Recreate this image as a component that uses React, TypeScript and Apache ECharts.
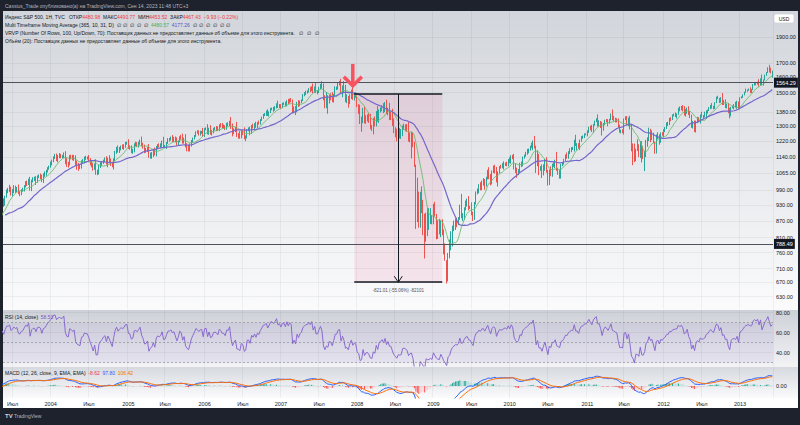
import React, { useEffect, useRef } from 'react';
import * as echarts from 'echarts';

// ---------- DATA (weekly S&P 500, Friday bars) ----------
const startDate = Date.UTC(2002, 10, 1); // first weekly bar (Fri 2002-11-01)
const firstOpen = 885.8;

const weeklyClose = [
  // 2002 Nov-Dec
  901.0, 894.7, 909.8, 930.6, 936.3, 912.2, 889.5, 895.8, 875.4,
  // 2003
  908.6, 927.6, 901.8, 861.4, 855.7, 829.7, 834.9, 851.2, 841.2, 828.9, 833.3, 895.9, 863.5,
  878.9, 868.3, 893.6, 898.8, 930.1, 933.4, 946.7, 933.2, 963.6, 987.8, 988.6, 995.7, 976.2,
  985.7, 998.1, 993.3, 998.7, 980.2, 977.6, 990.7, 993.1, 1008.0, 1021.4, 1018.6, 1036.3, 996.9,
  1029.9, 1038.7, 1039.3, 1028.9, 1050.7, 1053.2, 1050.4, 1035.3, 1058.2, 1061.5, 1074.1, 1088.7, 1095.9,
  // 2004
  1108.5, 1121.9, 1139.8, 1141.6, 1131.1, 1142.8, 1145.8, 1144.1, 1144.9, 1156.9, 1120.6, 1109.8, 1108.1,
  1141.8, 1139.3, 1134.6, 1140.6, 1107.3, 1098.7, 1095.7, 1093.6, 1120.7, 1122.5, 1136.5, 1135.0, 1134.4,
  1125.4, 1112.8, 1101.4, 1086.2, 1101.7, 1064.0, 1064.8, 1098.4, 1107.8, 1113.6, 1123.9, 1128.6, 1110.1,
  1131.5, 1122.1, 1108.2, 1095.7, 1130.2, 1166.2, 1184.2, 1170.3, 1182.7, 1191.2, 1188.0, 1194.2, 1210.1, 1211.9,
  // 2005
  1186.2, 1184.5, 1167.9, 1171.4, 1203.0, 1205.3, 1201.6, 1211.4, 1222.1, 1200.1, 1190.2, 1171.4,
  1172.9, 1181.2, 1142.6, 1152.1, 1156.9, 1171.4, 1154.1, 1189.3, 1198.8, 1196.0, 1200.9, 1217.0, 1191.6,
  1194.4, 1211.9, 1227.9, 1229.0, 1234.2, 1226.4, 1230.4, 1219.7, 1205.1, 1218.0, 1241.5, 1237.9, 1215.3, 1228.8,
  1195.9, 1186.6, 1179.6, 1198.4, 1220.1, 1234.7, 1248.3, 1268.3, 1265.1, 1259.4, 1267.3, 1268.7, 1248.3,
  // 2006
  1285.5, 1287.6, 1261.5, 1283.7, 1264.0, 1267.0, 1287.2, 1289.4, 1287.2, 1281.4, 1307.3, 1303.0, 1294.8,
  1295.5, 1289.1, 1311.3, 1310.6, 1325.8, 1291.2, 1267.0, 1280.2, 1288.2, 1252.3, 1251.5, 1244.5, 1270.2,
  1265.5, 1236.2, 1240.3, 1278.6, 1279.4, 1266.7, 1302.3, 1295.1, 1311.0, 1298.9, 1319.7, 1314.8, 1335.9,
  1349.6, 1365.6, 1368.6, 1377.3, 1364.3, 1380.9, 1401.2, 1401.0, 1396.7, 1409.8, 1427.1, 1410.8, 1418.3,
  // 2007
  1409.7, 1430.7, 1430.5, 1422.2, 1448.4, 1438.1, 1455.5, 1451.2, 1387.2, 1402.8, 1387.0, 1436.1, 1420.9,
  1443.8, 1452.9, 1484.4, 1494.1, 1505.6, 1505.9, 1522.8, 1515.7, 1536.3, 1507.7, 1532.9, 1502.6, 1503.4,
  1530.4, 1552.5, 1534.1, 1459.0, 1433.1, 1453.6, 1445.9, 1479.4, 1474.0, 1453.6, 1484.3, 1525.8, 1526.8,
  1557.6, 1561.8, 1500.6, 1535.3, 1509.7, 1453.7, 1458.7, 1440.7, 1481.1, 1504.7, 1468.0, 1484.5, 1478.5,
  // 2008
  1411.6, 1401.0, 1325.2, 1330.6, 1395.4, 1331.3, 1350.0, 1353.1, 1330.6, 1293.4, 1288.1, 1329.5, 1315.2,
  1370.4, 1332.8, 1390.3, 1397.8, 1413.9, 1388.3, 1425.4, 1375.9, 1400.4, 1360.7, 1360.0, 1317.9, 1278.4,
  1262.9, 1239.5, 1260.7, 1257.8, 1260.3, 1296.3, 1298.2, 1292.2, 1282.8, 1242.3, 1251.7, 1255.1, 1213.3,
  1099.2, 899.2, 940.6, 876.8, 968.8, 931.0, 873.3, 800.0, 896.2, 876.1, 879.7, 887.9, 872.8,
  // 2009
  931.8, 890.4, 850.1, 832.0, 825.9, 868.6, 826.8, 770.1, 735.1, 683.4, 756.6, 768.5, 815.9,
  842.5, 856.6, 869.6, 866.2, 877.5, 929.2, 882.9, 887.0, 919.1, 940.1, 946.2, 921.2, 918.9,
  896.4, 879.1, 940.4, 979.3, 987.5, 1010.5, 1004.1, 1026.1, 1028.9, 1016.4, 1042.7, 1068.3, 1044.4,
  1025.2, 1071.5, 1087.7, 1079.6, 1036.2, 1069.3, 1093.5, 1091.4, 1091.5, 1106.0, 1106.4, 1102.5, 1126.5, 1115.1,
  // 2010
  1145.0, 1136.0, 1091.8, 1073.9, 1066.2, 1075.5, 1109.2, 1104.5, 1138.7, 1150.0, 1159.9, 1166.6,
  1178.1, 1194.4, 1192.1, 1217.3, 1186.7, 1110.9, 1135.7, 1087.7, 1089.4, 1064.9, 1091.6, 1117.5, 1076.8,
  1022.6, 1078.0, 1064.9, 1102.7, 1101.6, 1121.6, 1079.3, 1071.7, 1064.6, 1104.5, 1109.6, 1125.6, 1148.7,
  1146.2, 1165.2, 1176.2, 1183.1, 1183.3, 1225.9, 1199.2, 1199.7, 1189.4, 1224.7, 1240.4, 1243.9, 1256.8, 1257.6,
  // 2011
  1271.5, 1293.2, 1283.4, 1276.3, 1310.9, 1329.2, 1343.0, 1319.9, 1321.2, 1304.3, 1279.2, 1313.8,
  1332.4, 1328.2, 1319.7, 1337.4, 1363.6, 1340.2, 1337.8, 1333.3, 1331.1, 1300.2, 1271.0, 1271.5, 1268.5,
  1339.7, 1343.8, 1316.1, 1345.0, 1292.3, 1199.4, 1178.8, 1123.5, 1176.8, 1174.0, 1154.2, 1216.0, 1136.4, 1131.4,
  1155.5, 1224.6, 1238.3, 1285.1, 1253.2, 1263.9, 1215.7, 1158.7, 1244.3, 1255.2, 1219.7, 1265.3, 1257.6,
  // 2012
  1277.8, 1289.1, 1315.4, 1316.3, 1344.9, 1342.6, 1361.2, 1365.7, 1369.6, 1370.9, 1404.2, 1397.1, 1408.5,
  1398.1, 1370.3, 1378.5, 1403.4, 1369.1, 1353.4, 1295.2, 1317.8, 1278.0, 1325.7, 1342.8, 1335.0, 1362.2,
  1354.7, 1356.8, 1362.7, 1386.0, 1391.0, 1405.9, 1418.2, 1411.1, 1406.6, 1437.9, 1465.8, 1460.2, 1440.7,
  1460.9, 1428.6, 1433.2, 1411.9, 1414.2, 1379.9, 1359.9, 1409.2, 1416.2, 1418.1, 1413.6, 1430.2, 1402.4,
  // 2013 Jan-Jun 7
  1466.5, 1472.1, 1486.0, 1503.0, 1513.2, 1517.9, 1519.8, 1515.6, 1518.2, 1551.2, 1560.7, 1556.9, 1569.2,
  1553.3, 1588.9, 1555.3, 1582.2, 1614.4, 1633.7, 1667.5, 1649.6, 1630.7, 1643.4,
];

// upper wick above the body, points
const wickUp = [
  14, 10, 12, 9, 7, 12, 9, 14, 8,
  6, 9, 8, 10, 12, 14, 10, 8, 12, 18, 14, 8, 20, 8, 16, 6, 10, 6, 8, 4, 10, 4, 6, 12, 18, 10,
  10, 14, 12, 6, 16, 6, 4, 8, 4, 8, 10, 4, 12, 6, 8, 10, 12, 4, 6, 10, 8, 6, 12, 6, 4, 4,
  10, 6, 4, 14, 16, 8, 14, 10, 6, 6, 12, 14, 8, 8, 10, 12, 10, 8, 16, 14, 12, 4, 8, 6, 10, 8,
  16, 10, 12, 10, 8, 28, 16, 4, 8, 8, 4, 10, 16, 6, 18, 12, 10, 4, 4, 6, 14, 8, 6, 12, 10, 6, 6,
  18, 12, 14, 10, 6, 12, 10, 6, 6, 22, 12, 12, 12, 10, 24, 10, 8, 10, 16, 6, 6, 10, 8, 6, 26,
  6, 4, 8, 8, 10, 18, 12, 14, 20, 6, 4, 12, 22, 10, 28, 14, 14, 10, 6, 4, 4, 4, 10, 12, 8, 6, 22,
  4, 6, 24, 8, 22, 12, 4, 6, 12, 12, 4, 10, 14, 14, 10, 8, 10, 4, 26, 24, 8, 8, 36, 10, 22, 6,
  10, 28, 10, 6, 14, 18, 4, 12, 6, 14, 4, 12, 4, 4, 4, 6, 12, 20, 4, 4, 6, 10, 6, 6, 22, 10,
  10, 6, 8, 12, 4, 12, 6, 10, 5, 12, 14, 6, 16, 6, 4, 6, 8, 6, 8, 6, 14, 4, 22, 6, 30, 12,
  6, 4, 22, 24, 24, 50, 30, 6, 16, 28, 6, 14, 12, 8, 14, 28, 10, 40, 40, 30, 20, 8, 14, 34, 16, 14,
  4, 16, 24, 24, 10, 20, 12, 14, 22, 40, 14, 16, 26, 16, 46, 6, 10, 8, 20, 15, 30, 6, 36, 22, 40, 26,
  16, 24, 10, 30, 24, 8, 16, 12, 20, 40, 14, 14, 10, 4, 5, 104, 44, 15, 38, 20, 23, 4, 22, 38, 30, 4,
  3, 11, 5, 21, 45, 2, 7, 12, 20, 1, 2, 35, 16, 10, 14, 8, 12, 6, 2, 46, 12, 2, 8, 10, 20, 6,
  22, 8, 2, 6, 10, 6, 14, 6, 14, 10, 6, 12, 24, 16, 6, 12, 16, 14, 4, 4, 10, 20, 14, 8, 12, 4, 12,
  4, 6, 20, 18, 16, 8, 4, 10, 4, 2, 6, 14, 4, 2, 18, 6, 30, 10, 38, 20, 8, 16, 14, 14, 22,
  3, 4, 18, 6, 12, 6, 44, 10, 10, 4, 6, 6, 4, 14, 4, 8, 6, 8, 2, 28, 10, 10, 4, 6, 6, 4, 4,
  6, 4, 10, 24, 2, 2, 2, 24, 12, 8, 20, 4, 4, 8, 12, 4, 8, 32, 18, 10, 12, 12, 8, 10, 12,
  4, 12, 14, 4, 14, 15, 9, 29, 5, 53, 30, 4, 4, 59, 16, 2, 2, 7, 1, 13, 1, 2, 11, 12, 1, 1, 2,
  6, 6, 6, 8, 2, 6, 6, 6, 8, 2, 2, 10, 8, 14, 18, 20, 4, 12, 18, 12, 12, 14, 6, 10, 8, 4,
  20, 6, 20, 4, 4, 4, 4, 16, 6, 2, 8, 14, 6, 10, 36, 20, 24, 16, 20, 26, 2, 2, 10, 24, 18, 14,
  4, 4, 2, 2, 12, 2, 6, 14, 4, 4, 4, 6, 2, 18, 4, 30, 4, 4, 2, 2, 20, 18, 3,
];

// lower wick below the body, points
const wickDown = [
  16, 20, 12, 10, 9, 14, 16, 20, 12,
  6, 10, 6, 8, 14, 12, 20, 8, 10, 10, 16, 4, 14, 10, 6, 12, 6, 8, 12, 6, 10, 6, 4, 10, 6, 8,
  12, 8, 14, 10, 6, 12, 8, 6, 8, 6, 10, 6, 8, 10, 6, 8, 16, 6, 8, 12, 10, 14, 10, 8, 6, 8,
  6, 8, 6, 8, 10, 16, 8, 10, 10, 10, 14, 16, 18, 8, 10, 10, 12, 8, 18, 20, 10, 8, 10, 12, 8, 6,
  6, 12, 10, 10, 6, 6, 8, 6, 10, 10, 6, 8, 6, 18, 6, 10, 4, 14, 8, 10, 8, 10, 10, 8, 12, 8, 8,
  6, 8, 8, 12, 8, 8, 12, 14, 10, 6, 8, 12, 10, 8, 6, 10, 20, 16, 6, 10, 10, 8, 12, 10, 6,
  6, 14, 6, 10, 6, 10, 10, 6, 8, 6, 4, 10, 8, 8, 8, 18, 12, 12, 6, 8, 6, 6, 6, 10, 10, 8, 6,
  6, 8, 6, 8, 10, 14, 6, 10, 14, 8, 8, 10, 6, 6, 10, 8, 10, 10, 6, 22, 10, 12, 10, 18, 12, 10,
  14, 6, 16, 6, 6, 16, 8, 8, 12, 8, 10, 6, 6, 6, 8, 8, 10, 6, 10, 6, 10, 14, 8, 8, 6, 6,
  12, 6, 8, 8, 8, 10, 6, 12, 13, 14, 24, 8, 10, 6, 10, 6, 8, 10, 12, 6, 14, 6, 12, 8, 6, 14,
  6, 10, 8, 8, 30, 30, 75, 14, 22, 14, 16, 8, 10, 8, 12, 10, 30, 12, 14, 20, 34, 12, 22, 14, 18, 12,
  2, 31, 13, 55, 14, 16, 18, 24, 12, 10, 14, 32, 16, 16, 8, 14, 12, 12, 14, 8, 8, 14, 26, 26, 16, 16,
  22, 20, 40, 24, 26, 14, 16, 20, 14, 24, 28, 118, 24, 6, 59, 34, 32, 32, 32, 55, 59, 4, 61, 39, 22, 16,
  16, 3, 46, 27, 5, 14, 9, 16, 1, 17, 11, 15, 1, 36, 10, 20, 20, 12, 4, 4, 14, 14, 10, 16, 12, 4,
  6, 10, 6, 8, 6, 10, 14, 14, 16, 24, 10, 6, 6, 14, 10, 6, 16, 12, 30, 6, 6, 4, 10, 8, 6, 6, 4,
  6, 6, 10, 8, 22, 10, 8, 12, 8, 6, 8, 8, 8, 6, 8, 18, 4, 45, 14, 32, 12, 22, 10, 16, 10,
  12, 10, 14, 16, 8, 14, 4, 14, 24, 24, 8, 6, 6, 14, 14, 10, 12, 8, 16, 4, 24, 6, 14, 8, 8, 8, 6,
  12, 8, 6, 8, 12, 8, 6, 22, 20, 14, 30, 4, 8, 6, 20, 6, 4, 6, 10, 12, 10, 8, 6, 10, 6,
  14, 6, 10, 16, 10, 31, 77, 7, 3, 4, 14, 18, 22, 1, 57, 15, 33, 18, 38, 27, 7, 2, 1, 13, 18, 8, 9,
  18, 10, 4, 14, 10, 14, 8, 6, 14, 26, 6, 12, 6, 14, 10, 16, 8, 6, 8, 4, 8, 10, 12, 8, 12, 20,
  6, 16, 6, 22, 14, 4, 8, 10, 10, 8, 4, 2, 6, 4, 6, 6, 8, 10, 6, 16, 4, 6, 20, 6, 14, 4,
  4, 4, 6, 4, 4, 8, 6, 18, 18, 2, 6, 10, 6, 14, 8, 6, 10, 4, 4, 4, 16, 4, 33,
];

const priceTicks = [1900, 1700, 1600, 1500, 1380, 1300, 1220, 1140, 1065, 990, 930, 870, 810, 760, 710, 670, 630];
const horizontalLevels = [1564.29, 788.49];
const markedPrice = 1643.38;
const rsiTickValues = [80, 60, 40];
const rsiBandValues = [70, 50, 30];
const macdTickValues = [0];

const viewStart = 29; // first visible weekly bar index
const viewEnd = 553;  // last visible weekly bar index
const measureStartIdx = 268;
const measureEndIdx = 328;
const measureTop = 1491.08;
const measureBottom = 670.07;
const measureText = '-821.01 (-55.06%) -82101';
const arrowIdx = 267;
const arrowTipPrice = 1537;
const arrowTailPrice = 1694;

const FONT = 'Liberation Sans, Arial, sans-serif';
const DARK = '#131722';

function sma(a: number[], n: number) {
  return a.map((_, i) => {
    if (i < n - 1) return null;
    let s = 0;
    for (let k = i - n + 1; k <= i; k++) s += a[k];
    return s / n;
  });
}
function ema(a: number[], n: number) {
  const k = 2 / (n + 1);
  const out: number[] = [];
  let prev = a[0];
  a.forEach((v, i) => {
    prev = i === 0 ? v : v * k + prev * (1 - k);
    out.push(prev);
  });
  return out;
}
function rsiCalc(c: number[], n: number) {
  const out: (number | null)[] = c.map(() => null);
  let g = 0, l = 0;
  for (let i = 1; i <= n; i++) {
    const d = c[i] - c[i - 1];
    if (d > 0) g += d; else l -= d;
  }
  g /= n; l /= n;
  out[n] = 100 - 100 / (1 + g / l);
  for (let i = n + 1; i < c.length; i++) {
    const d = c[i] - c[i - 1];
    g = (g * (n - 1) + Math.max(d, 0)) / n;
    l = (l * (n - 1) + Math.max(-d, 0)) / n;
    out[i] = l === 0 ? 100 : 100 - 100 / (1 + g / l);
  }
  return out;
}

export default function App() {
  const ref = useRef<HTMLDivElement>(null);
  useEffect(() => {
    const chart = echarts.init(ref.current!, null, { renderer: 'svg' });
    const n = weeklyClose.length;
    const dates = weeklyClose.map((_, i) => new Date(startDate + i * 7 * 86400000).toISOString().slice(0, 10));
    const labelByDate: Record<string, string> = {};
    for (let i = 1; i < n; i++) {
      const m = +dates[i].slice(5, 7);
      const pm = +dates[i - 1].slice(5, 7);
      if (m !== pm) {
        if (m === 1) labelByDate[dates[i]] = dates[i].slice(0, 4);
        else if (m === 7) labelByDate[dates[i]] = 'Июл';
      }
    }
    const candles = weeklyClose.map((c, i) => {
      const o = i === 0 ? firstOpen : weeklyClose[i - 1];
      return [o, c, Math.min(o, c) - (wickDown[i] ?? 0), Math.max(o, c) + (wickUp[i] ?? 0)];
    });
    const ma10 = sma(weeklyClose, 10);
    const ma31 = sma(weeklyClose, 31);
    const rsi = rsiCalc(weeklyClose, 14);
    const e12 = ema(weeklyClose, 12);
    const e26 = ema(weeklyClose, 26);
    const macd = e12.map((v, i) => v - e26[i]);
    const signal = ema(macd, 9);
    const hist = macd.map((v, i) => v - signal[i]);
    const histData = hist.map((h, i) => {
      const p = i > 0 ? hist[i - 1] : h;
      const color = h >= 0 ? (h >= p ? '#26a69a' : '#b2dfdb') : (h < p ? '#ff5252' : '#ffcdd2');
      return { value: h, itemStyle: { color } };
    });

    const isLabel = (_i: number, v: string) => !!labelByDate[v];
    const xAxes = [0, 1, 2].map((g) => ({
      type: 'category', gridIndex: g, data: dates, min: viewStart, max: viewEnd, boundaryGap: true,
      axisLine: { show: false }, axisTick: { show: false },
      axisLabel: g === 2 ? {
        show: true, interval: isLabel, formatter: (v: string) => labelByDate[v] || '',
        fontSize: 5.5, color: DARK, margin: 3, fontFamily: FONT,
      } : { show: false },
      splitLine: { show: true, interval: isLabel, lineStyle: { color: 'rgba(42,46,57,0.06)', width: 1 } },
    }));

    const tickLabel = { position: 'end', distance: 3, color: DARK, fontSize: 5.5, fontFamily: FONT };
    const faint = { color: 'rgba(42,46,57,0.06)', width: 1, type: 'solid' };

    const option: any = {
      animation: false,
      backgroundColor: '#1e222d',
      grid: [
        { left: 3, right: 27, top: 11, height: 298 },
        { left: 3, right: 27, top: 310, height: 56 },
        { left: 3, right: 27, top: 367, height: 31 },
      ],
      xAxis: xAxes,
      yAxis: [
        { type: 'log', gridIndex: 0, min: 598, max: 2121, show: false },
        { type: 'value', gridIndex: 1, min: 26.7, max: 82.7, show: false },
        { type: 'value', gridIndex: 2, min: -60, max: 95, show: false },
      ],
      series: [
        {
          type: 'line', xAxisIndex: 0, yAxisIndex: 0, data: weeklyClose, symbol: 'none', silent: true, z: 1,
          lineStyle: { opacity: 0 },
          markLine: {
            symbol: ['none', 'none'], silent: true, lineStyle: faint, label: tickLabel,
            data: priceTicks.map((v) => ({ yAxis: v, label: { formatter: v.toFixed(2) } })),
          },
        },
        {
          type: 'candlestick', xAxisIndex: 0, yAxisIndex: 0, data: candles, z: 3, barWidth: '35%',
          itemStyle: { color: '#26a69a', color0: '#ef5350', borderColor: '#26a69a', borderColor0: '#ef5350', borderWidth: 1 },
          markArea: {
            silent: true,
            itemStyle: { color: 'rgba(233,30,99,0.09)' },
            data: [[{ coord: [dates[measureStartIdx], measureTop] }, { coord: [dates[measureEndIdx], measureBottom] }]],
          },
          markLine: {
            symbol: ['none', 'none'], silent: true,
            data: [
              ...horizontalLevels.map((v) => ({
                yAxis: v,
                lineStyle: { color: '#50535e', width: 1, type: 'solid' },
                label: { position: 'end', distance: 1, formatter: v.toFixed(2), color: '#ffffff', backgroundColor: DARK, padding: [2, 2], fontSize: 5.5, fontFamily: FONT },
              })),
              {
                yAxis: markedPrice,
                lineStyle: { opacity: 0 },
                label: { position: 'end', distance: 1, formatter: markedPrice.toFixed(2), color: '#26a69a', backgroundColor: '#ffffff', borderColor: '#26a69a', borderWidth: 0.8, padding: [1.5, 2], fontSize: 5.5, fontFamily: FONT },
              },
              [
                { coord: [dates[measureStartIdx], measureTop], lineStyle: { color: DARK, width: 1.5, type: 'solid' }, label: { show: false } },
                { coord: [dates[measureEndIdx], measureTop] },
              ],
              [
                { coord: [dates[measureStartIdx], measureBottom], lineStyle: { color: DARK, width: 1.5, type: 'solid' }, label: { show: false } },
                { coord: [dates[measureEndIdx], measureBottom] },
              ],
              [
                { coord: [dates[Math.round((measureStartIdx + measureEndIdx) / 2)], measureTop], lineStyle: { color: DARK, width: 1, type: 'solid' }, label: { show: false } },
                { coord: [dates[Math.round((measureStartIdx + measureEndIdx) / 2)], measureBottom] },
              ],
            ],
          },
        },
        {
          type: 'line', xAxisIndex: 0, yAxisIndex: 0, data: ma10, symbol: 'none', z: 4,
          lineStyle: { color: '#66bb6a', width: 1, opacity: 0.85 },
        },
        {
          type: 'line', xAxisIndex: 0, yAxisIndex: 0, data: ma31, symbol: 'none', z: 4,
          lineStyle: { color: '#7566cc', width: 1.2 },
        },
        {
          type: 'line', xAxisIndex: 1, yAxisIndex: 1, data: rsi, symbol: 'none', z: 4,
          lineStyle: { color: '#8a6bd0', width: 1 },
          markArea: { silent: true, itemStyle: { color: 'rgba(126,87,194,0.09)' }, data: [[{ yAxis: 70 }, { yAxis: 30 }]] },
          markLine: {
            symbol: ['none', 'none'], silent: true,
            data: [
              ...rsiBandValues.map((v) => ({ yAxis: v, lineStyle: { color: '#787b86', width: 1, type: [2, 2], opacity: 0.55 }, label: { show: false } })),
              ...rsiTickValues.map((v) => ({ yAxis: v, lineStyle: faint, label: { ...tickLabel, formatter: v.toFixed(2) } })),
            ],
          },
        },
        {
          type: 'bar', xAxisIndex: 2, yAxisIndex: 2, data: histData, barWidth: '60%', z: 2,
        },
        {
          type: 'line', xAxisIndex: 2, yAxisIndex: 2, data: macd, symbol: 'none', z: 4,
          lineStyle: { color: '#2962ff', width: 1 },
          markLine: {
            symbol: ['none', 'none'], silent: true,
            data: macdTickValues.map((v) => ({ yAxis: v, lineStyle: faint, label: { ...tickLabel, formatter: v.toFixed(2) } })),
          },
        },
        {
          type: 'line', xAxisIndex: 2, yAxisIndex: 2, data: signal, symbol: 'none', z: 4,
          lineStyle: { color: '#ff6d00', width: 1 },
        },
      ],
    };
    chart.setOption(option);

    const px = (i: number, v: number) => chart.convertToPixel({ xAxisIndex: 0, yAxisIndex: 0 } as any, [i, v]) as number[];
    const mid = Math.round((measureStartIdx + measureEndIdx) / 2);
    const [mx, mBot] = px(mid, measureBottom);
    const [ax, aTip] = px(arrowIdx, arrowTipPrice);
    const [, aTail] = px(arrowIdx, arrowTailPrice);

    const grad = (a: string, b: string) => new echarts.graphic.LinearGradient(0, 0, 0, 1, [{ offset: 0, color: a }, { offset: 1, color: b }]);
    const rich = {
      a: { fill: DARK, fontSize: 5, fontFamily: FONT },
      r: { fill: '#f23645', fontSize: 5, fontFamily: FONT },
      g: { fill: '#4caf50', fontSize: 5, fontFamily: FONT },
      p: { fill: '#5e50c6', fontSize: 5, fontFamily: FONT },
      b: { fill: '#2962ff', fontSize: 5, fontFamily: FONT },
      o: { fill: '#ff6d00', fontSize: 5, fontFamily: FONT },
      v: { fill: '#7e57c2', fontSize: 5, fontFamily: FONT },
    };
    const txt = (x: number, y: number, text: string) => ({
      type: 'text', x, y, z: 100, silent: true,
      style: { text, rich, fontSize: 5, fontFamily: FONT, fill: DARK, verticalAlign: 'middle' },
    });

    chart.setOption({
      graphic: [
        { type: 'rect', z: -5, silent: true, shape: { x: 3, y: 11, width: 795, height: 299 }, style: { fill: grad('#d2d5db', '#fbfbfc') } },
        { type: 'rect', z: -5, silent: true, shape: { x: 3, y: 310, width: 795, height: 57 }, style: { fill: grad('#cdd0d7', '#f3f3f6') } },
        { type: 'rect', z: -5, silent: true, shape: { x: 3, y: 367, width: 795, height: 31 }, style: { fill: grad('#d6d9df', '#fbfbfc') } },
        { type: 'rect', z: -5, silent: true, shape: { x: 3, y: 398, width: 795, height: 10 }, style: { fill: '#ffffff' } },
        {
          type: 'text', x: 5, y: 6, z: 100, silent: true,
          style: { text: 'Cassius_Trade опубликовано(а) на TradingView.com, Сен 14, 2023 11:48 UTC+3', fill: '#b2b5be', fontSize: 5, fontFamily: FONT, verticalAlign: 'middle' },
        },
        {
          type: 'text', x: 5, y: 416, z: 100, silent: true,
          style: { text: '{t|TV} TradingView', rich: { t: { fill: '#d1d4dc', fontSize: 6, fontWeight: 'bold', fontFamily: FONT } }, fill: '#b2b5be', fontSize: 5, fontFamily: FONT, verticalAlign: 'middle' },
        },
        txt(5, 17, '{a|Индекс S&P 500, 1Н, TVC   ОТКР}{r|4480.98}{a|  МАКС}{r|4490.77}{a|  МИН}{r|4453.52}{a|  ЗАКР}{r|4467.43}{r|  −9.93 (−0.22%)}'),
        txt(5, 25, '{a|Multi Timeframe Moving Average (365, 10, 31, D)  ∅  ∅  ∅  ∅  ∅  }{g|4480.57}{a|  }{p|4177.26}{a|  ∅  ∅  ∅  ∅  ∅  ∅}'),
        txt(5, 33, '{a|VRVP (Number Of Rows, 100, Up/Down, 70): Поставщик данных не предоставляет данные об объеме для этого инструмента.   ∅   ∅   ∅}'),
        txt(5, 41, '{a|Объём (20): Поставщик данных не предоставляет данные об объеме для этого инструмента.}'),
        txt(5, 317, '{a|RSI (14, close)  }{v|58.53}'),
        txt(5, 373, '{a|MACD (12, 26, close, 9, EMA, EMA)  }{r|-8.62}{a|  }{b|97.80}{a|  }{o|106.42}'),
        {
          type: 'rect', z: 100, silent: true, shape: { x: 774, y: 14, width: 20, height: 9, r: 2 },
          style: { fill: '#ffffff', stroke: '#c9ccd3', lineWidth: 0.6 },
        },
        { type: 'text', x: 784, y: 18.5, z: 101, silent: true, style: { text: 'USD', fill: DARK, fontSize: 5, fontFamily: FONT, align: 'center', verticalAlign: 'middle' } },
        {
          type: 'polyline', z: 100, silent: true,
          shape: { points: [[mx - 4, mBot - 6], [mx, mBot], [mx + 4, mBot - 6]] },
          style: { stroke: DARK, lineWidth: 1, fill: 'none' },
        },
        {
          type: 'text', x: mx, y: mBot + 8, z: 100, silent: true,
          style: { text: measureText, fill: '#50535e', fontSize: 4.5, fontFamily: FONT, align: 'center', verticalAlign: 'middle' },
        },
        {
          type: 'line', z: 100, silent: true, shape: { x1: ax, y1: aTail, x2: ax, y2: aTip - 1 },
          style: { stroke: '#f7525f', lineWidth: 3.5 },
        },
        {
          type: 'polyline', z: 100, silent: true,
          shape: { points: [[ax - 9, aTip - 10], [ax, aTip - 1], [ax + 9, aTip - 10]] },
          style: { stroke: '#f7525f', lineWidth: 3.5, fill: 'none', lineJoin: 'miter' },
        },
      ],
    });

    return () => chart.dispose();
  }, []);
  return <div ref={ref} style={{ position: 'fixed', left: 0, top: 0, width: 800, height: 425 }} />;
}
